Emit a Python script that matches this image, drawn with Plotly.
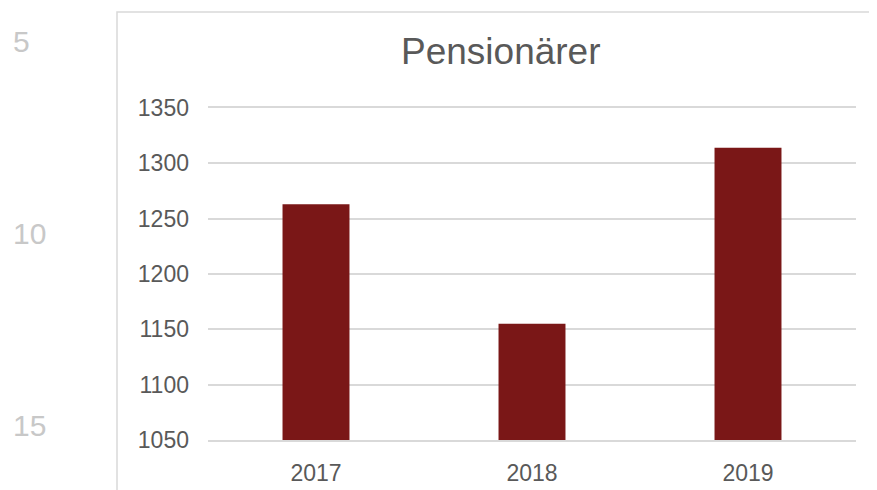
import plotly.graph_objects as go

# ---------- Data ----------
years = ["2017", "2018", "2019"]
pensionarer = [1263, 1155, 1314]
y_ticks = [1050, 1100, 1150, 1200, 1250, 1300, 1350]
line_numbers = ["5", "10", "15"]

# the page body adds an 8px offset, so work in page pixels minus 8
OFF = 8
W, H = 877, 490
L, R, T = 208 - OFF, 21 + OFF, 108 - OFF
B = H - (440 - OFF)
pw, ph = W - L - R, H - T - B


def px_x(x):
    return (x - OFF - L) / pw


def px_y(y):
    return (H - B - (y - OFF)) / ph


fig = go.Figure(go.Bar(
    x=years, y=pensionarer,
    marker=dict(color="#7a1717", line=dict(width=0)),
    width=0.31,
))

fig.update_xaxes(
    showgrid=False, showline=True, mirror=True, linecolor="#d9d9d9", linewidth=1.5,
    ticks="", tickfont=dict(size=23, color="#595959"), ticklabelstandoff=12,
)
fig.update_yaxes(
    range=[1050, 1350], tickvals=y_ticks, showgrid=True,
    gridcolor="#d9d9d9", gridwidth=1.5, zeroline=False, ticks="",
    tickfont=dict(size=23, color="#595959"), ticklabelstandoff=18,
)

# chart frame (only the top and left edges are visible)
fig.add_shape(type="rect", xref="paper", yref="paper",
              x0=px_x(117), x1=1.3, y0=-0.3, y1=px_y(12),
              line=dict(color="#d9d9d9", width=1.5), layer="below")

# title
fig.add_annotation(text="Pensionärer", xref="paper", yref="paper",
                   x=px_x(501), y=px_y(52), showarrow=False,
                   xanchor="center", yanchor="middle",
                   font=dict(size=37, color="#595959"))

# document line numbers on the left
for txt, yy in zip(line_numbers, [42, 233, 425]):
    fig.add_annotation(text=txt, xref="paper", yref="paper",
                       x=px_x(11), y=px_y(yy), showarrow=False,
                       xanchor="left", yanchor="middle",
                       font=dict(size=30, color="#c8c8c8"))

fig.update_layout(
    width=W, height=H,
    margin=dict(l=L, r=R, t=T, b=B),
    paper_bgcolor="white", plot_bgcolor="white",
    font=dict(family="Liberation Sans, Arial, sans-serif", color="#595959"),
    showlegend=False, bargap=0.69,
)

fig.write_html("out.html")
